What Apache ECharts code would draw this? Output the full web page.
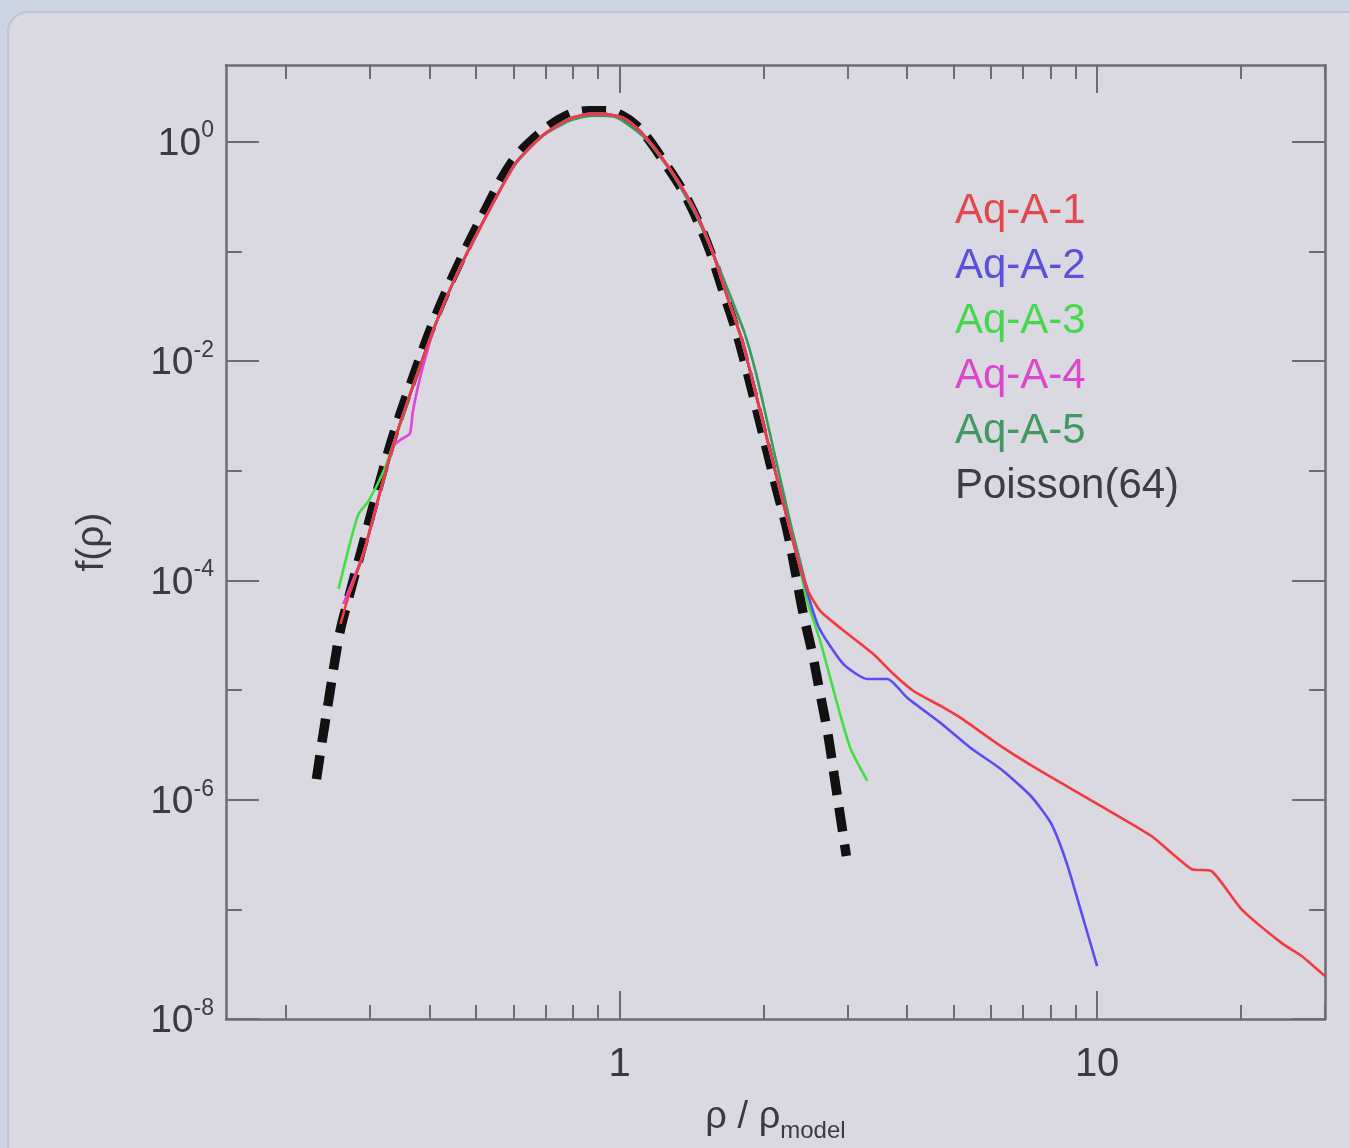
<!DOCTYPE html>
<html>
<head>
<meta charset="utf-8">
<title>f(ρ) distribution</title>
<script src="https://cdn.jsdelivr.net/npm/echarts@6/dist/echarts.min.js"></script>
<style>
  html, body { margin: 0; padding: 0; background: #cdd4e4; }
  #chart { width: 1350px; height: 1148px; }
</style>
</head>
<body>
<div id="chart"></div>
<script>
const FONT = '"Liberation Sans", Arial, Helvetica, sans-serif';

// ---- axis ranges and ticks ----
const X_MIN = 0.15, X_MAX = 30;
const Y_MIN = 1e-8, Y_MAX = 5;
const xMajorTicks = [1, 10];
const xMajorLabels = ['1', '10'];
const xMinorTicks = [0.2, 0.3, 0.4, 0.5, 0.6, 0.7, 0.8, 0.9, 2, 3, 4, 5, 6, 7, 8, 9, 20, 30];
const yMajorTicks = [1, 1e-2, 1e-4, 1e-6, 1e-8];
const yMajorExponents = ['0', '-2', '-4', '-6', '-8'];
const yMinorTicks = [1e-1, 1e-3, 1e-5, 1e-7];

// ---- series ----
const seriesNames = ['Aq-A-1', 'Aq-A-2', 'Aq-A-3', 'Aq-A-4', 'Aq-A-5', 'Poisson(64)'];
const lineColors = ['#f23a3e', '#5a4cf2', '#3fe040', '#e042dc', '#3a9a5a', '#111111'];
const legendColors = ['#e2474d', '#5a50dc', '#45d84c', '#dc46cc', '#3e9a60', '#3c3c44'];

// Aq-A-1: x = rho / rho_model, y = f(rho)
const aqA1X = [0.2606, 0.2709, 0.2912, 0.3178, 0.3417, 0.3728, 0.4107, 0.4611, 0.5331, 0.6047, 0.6893, 0.7852, 0.8774, 0.9528, 1.0245, 1.102, 1.173, 1.274, 1.376, 1.473, 1.568, 1.670, 1.787, 1.876, 1.969, 2.066, 2.169, 2.276, 2.377, 2.483, 2.631, 2.899, 3.400, 3.746, 4.127, 4.702, 5.179, 6.284, 7.625, 10.19, 12.99, 15.76, 17.36, 20.07, 24.36, 26.83, 30.0];
const aqA1Y = [4.0e-5, 7.2e-5, 1.78e-4, 7.27e-4, 2.17e-3, 6.6e-3, 2.1e-2, 6.79e-2, 0.2347, 0.630, 1.134, 1.622, 1.801, 1.764, 1.622, 1.26, 0.919, 0.567, 0.3354, 0.190, 0.0971, 0.0419, 0.0177, 8.14e-3, 3.51e-3, 1.52e-3, 6.54e-4, 2.88e-4, 1.41e-4, 8.0e-5, 5.26e-5, 3.68e-5, 2.13e-5, 1.40e-5, 9.8e-6, 7.15e-6, 5.56e-6, 3.08e-6, 1.82e-6, 8.74e-7, 4.66e-7, 2.33e-7, 2.23e-7, 1.0e-7, 4.92e-8, 3.74e-8, 2.46e-8];

// Aq-A-2
const aqA2X = [0.2644, 0.2912, 0.3178, 0.3417, 0.3728, 0.4107, 0.4611, 0.5331, 0.6047, 0.6893, 0.7852, 0.8774, 0.9528, 1.0245, 1.102, 1.173, 1.274, 1.376, 1.473, 1.568, 1.670, 1.787, 1.876, 1.969, 2.066, 2.169, 2.276, 2.377, 2.606, 2.941, 3.303, 3.638, 4.009, 4.702, 5.436, 6.284, 7.265, 8.005, 8.61, 9.256, 10.0];
const aqA2Y = [6.1e-5, 1.78e-4, 7.27e-4, 2.17e-3, 6.6e-3, 2.1e-2, 6.79e-2, 0.2347, 0.630, 1.134, 1.622, 1.801, 1.764, 1.622, 1.26, 0.919, 0.567, 0.3354, 0.190, 0.0971, 0.0419, 0.0177, 8.14e-3, 3.51e-3, 1.52e-3, 6.54e-4, 2.88e-4, 1.41e-4, 3.84e-5, 1.73e-5, 1.26e-5, 1.26e-5, 8.45e-6, 5.0e-6, 2.96e-6, 1.9e-6, 1.08e-6, 6.11e-7, 2.75e-7, 9.6e-8, 3.03e-8];

// Aq-A-3
const aqA3X = [0.2581, 0.2735, 0.2843, 0.2984, 0.3209, 0.3417, 0.3728, 0.4107, 0.4611, 0.5331, 0.6047, 0.6893, 0.7852, 0.8774, 0.9528, 1.0245, 1.102, 1.173, 1.274, 1.376, 1.473, 1.568, 1.670, 1.787, 1.876, 1.969, 2.066, 2.169, 2.276, 2.377, 2.471, 2.631, 2.857, 3.042, 3.303];
const aqA3Y = [8.35e-5, 2.29e-4, 4.04e-4, 5.3e-4, 9.96e-4, 2.17e-3, 6.6e-3, 2.1e-2, 6.79e-2, 0.2347, 0.630, 1.134, 1.622, 1.801, 1.764, 1.622, 1.26, 0.919, 0.567, 0.3354, 0.190, 0.0971, 0.0419, 0.0177, 8.14e-3, 3.51e-3, 1.52e-3, 6.54e-4, 2.88e-4, 1.41e-4, 6.49e-5, 2.8e-5, 7.45e-6, 2.96e-6, 1.48e-6];

// Aq-A-4
const aqA4X = [0.2644, 0.2912, 0.3178, 0.3367, 0.3500, 0.3639, 0.3692, 0.3819, 0.3950, 0.4107, 0.4611, 0.5331, 0.6047, 0.6893, 0.7852, 0.8774, 0.9528, 1.0245, 1.102, 1.173, 1.274, 1.376, 1.473, 1.568, 1.670, 1.787, 1.876, 1.969, 2.066, 2.169, 2.276, 2.377, 2.483];
const aqA4Y = [6.1e-5, 1.78e-4, 7.27e-4, 1.68e-3, 1.95e-3, 2.17e-3, 3.44e-3, 6.88e-3, 1.19e-2, 2.1e-2, 6.79e-2, 0.2347, 0.630, 1.134, 1.622, 1.801, 1.764, 1.622, 1.26, 0.919, 0.567, 0.3354, 0.190, 0.0971, 0.0419, 0.0177, 8.14e-3, 3.51e-3, 1.52e-3, 6.54e-4, 2.88e-4, 1.41e-4, 8.0e-5];

// Aq-A-5
const aqA5X = [0.2683, 0.2912, 0.3178, 0.3417, 0.3728, 0.4107, 0.4611, 0.5331, 0.6047, 0.6893, 0.7852, 0.8774, 0.9761, 1.128, 1.286, 1.437, 1.561, 1.702, 1.830, 1.931, 2.017, 2.106, 2.200, 2.298, 2.388, 2.459];
const aqA5Y = [6.5e-5, 1.78e-4, 7.27e-4, 2.17e-3, 6.6e-3, 2.1e-2, 6.79e-2, 0.2347, 0.620, 1.12, 1.55, 1.727, 1.69, 1.088, 0.521, 0.225, 0.101, 0.0402, 0.0177, 7.8e-3, 3.44e-3, 1.49e-3, 6.54e-4, 2.88e-4, 1.50e-4, 8.89e-5];

// Poisson(64) reference curve
const poissonX = [0.232, 0.2388, 0.2459, 0.2531, 0.2606, 0.2709, 0.2871, 0.3132, 0.3367, 0.3674, 0.4047, 0.4545, 0.5255, 0.5958, 0.6793, 0.7737, 0.865, 0.9391, 1.0146, 1.086, 1.156, 1.255, 1.356, 1.451, 1.546, 1.646, 1.761, 1.848, 1.941, 2.036, 2.137, 2.243, 2.332, 2.423, 2.532, 2.631, 2.735, 2.816, 2.899, 2.985];
const poissonY = [1.54e-6, 3.57e-6, 7.94e-6, 1.76e-5, 3.6e-5, 6.9e-5, 1.78e-4, 7.27e-4, 2.17e-3, 6.6e-3, 2.1e-2, 6.79e-2, 0.2447, 0.657, 1.183, 1.727, 1.918, 1.918, 1.727, 1.40, 1.021, 0.604, 0.357, 0.198, 0.1012, 0.0437, 0.0177, 8.14e-3, 3.51e-3, 1.52e-3, 6.54e-4, 2.88e-4, 1.22e-4, 5.04e-5, 2.18e-5, 9.2e-6, 3.8e-6, 1.64e-6, 7.08e-7, 3.06e-7];

function pairs(xs, ys) { return xs.map((x, i) => [x, ys[i]]); }
function sameTick(a, b) { return Math.abs(Math.log10(a) - Math.log10(b)) < 1e-6; }

const AXIS_COLOR = '#6c6c76';
const TEXT_COLOR = '#3a3a40';
const axisLineStyle = { color: AXIS_COLOR, width: 2.5 };
const tickLineStyle = { color: AXIS_COLOR, width: 2 };

function xAxisDef(position, ticks, len, withLine, withLabels) {
  const ax = {
    type: 'log', logBase: 10, min: X_MIN, max: X_MAX, position: position,
    axisLine: { show: withLine, onZero: false, lineStyle: axisLineStyle },
    axisTick: { show: true, inside: true, length: len, customValues: ticks, lineStyle: tickLineStyle },
    axisLabel: { show: false },
    splitLine: { show: false }, minorTick: { show: false }
  };
  if (withLabels) {
    ax.axisLabel = {
      show: true, customValues: xMajorTicks, margin: 26,
      fontFamily: FONT, fontSize: 40, color: TEXT_COLOR,
      formatter: v => { const i = xMajorTicks.findIndex(t => sameTick(t, v)); return i >= 0 ? xMajorLabels[i] : ''; }
    };
    ax.name = '{m|ρ / ρ}{s|model}';
    ax.nameLocation = 'middle';
    ax.nameGap = 80;
    ax.nameTextStyle = {
      rich: {
        m: { fontFamily: FONT, fontSize: 38, color: TEXT_COLOR, lineHeight: 44, verticalAlign: 'top' },
        s: { fontFamily: FONT, fontSize: 24, color: TEXT_COLOR, lineHeight: 24, verticalAlign: 'bottom' }
      }
    };
  }
  return ax;
}

function yAxisDef(position, ticks, len, withLine, withLabels) {
  const ax = {
    type: 'log', logBase: 10, min: Y_MIN, max: Y_MAX, position: position,
    axisLine: { show: withLine, onZero: false, lineStyle: axisLineStyle },
    axisTick: { show: true, inside: true, length: len, customValues: ticks, lineStyle: tickLineStyle },
    axisLabel: { show: false },
    splitLine: { show: false }, minorTick: { show: false }
  };
  if (withLabels) {
    ax.axisLabel = {
      show: true, customValues: yMajorTicks, margin: 12,
      formatter: v => {
        const i = yMajorTicks.findIndex(t => sameTick(t, v));
        return i >= 0 ? '{b|10}{e|' + yMajorExponents[i] + '}' : '';
      },
      rich: {
        b: { fontFamily: FONT, fontSize: 39, color: TEXT_COLOR, lineHeight: 44, verticalAlign: 'bottom' },
        e: { fontFamily: FONT, fontSize: 23, color: TEXT_COLOR, lineHeight: 23, verticalAlign: 'top' }
      }
    };
    ax.name = 'f(ρ)';
    ax.nameLocation = 'middle';
    ax.nameGap = 114;
    ax.nameTextStyle = { fontFamily: FONT, fontSize: 39, color: TEXT_COLOR };
  }
  return ax;
}

const seriesData = [
  pairs(aqA1X, aqA1Y), pairs(aqA2X, aqA2Y), pairs(aqA3X, aqA3Y),
  pairs(aqA4X, aqA4Y), pairs(aqA5X, aqA5Y), pairs(poissonX, poissonY)
];

// draw order: dashed reference at the bottom, Aq-A-1 on top
const drawOrder = [5, 4, 2, 1, 3, 0];
const series = drawOrder.map((k, n) => {
  const isRef = k === 5;
  return {
    name: seriesNames[k], type: 'line', xAxisIndex: 0, yAxisIndex: 0,
    data: seriesData[k], symbol: 'none', showSymbol: false,
    smooth: isRef ? 0.35 : 0.2, z: 2 + n,
    lineStyle: isRef
      ? { color: lineColors[k], width: 9.5, type: [24, 13], cap: 'butt' }
      : { color: lineColors[k], width: 2.6 },
    emphasis: { disabled: true }
  };
});

const chart = echarts.init(document.getElementById('chart'), null, { renderer: 'canvas' });
chart.setOption({
  animation: false,
  backgroundColor: 'transparent',
  graphic: [{
    type: 'rect', z: -10, silent: true,
    shape: { x: 8, y: 12, width: 1400, height: 1200, r: 20 },
    style: { fill: '#dad8e1', stroke: '#bcc4da', lineWidth: 2 }
  }],
  grid: { left: 226, top: 65, width: 1099, height: 954, containLabel: false },
  xAxis: [
    xAxisDef('bottom', xMajorTicks, 28, true, true),
    xAxisDef('bottom', xMinorTicks, 14, false, false),
    xAxisDef('top', xMajorTicks, 28, true, false),
    xAxisDef('top', xMinorTicks, 14, false, false)
  ],
  yAxis: [
    yAxisDef('left', yMajorTicks, 33, true, true),
    yAxisDef('left', yMinorTicks, 16, false, false),
    yAxisDef('right', yMajorTicks, 33, true, false),
    yAxisDef('right', yMinorTicks, 16, false, false)
  ],
  legend: {
    orient: 'vertical', left: 945, top: 184,
    icon: 'none', itemWidth: 0, itemHeight: 10, itemGap: 11,
    selectedMode: false,
    textStyle: { fontFamily: FONT, fontSize: 42, lineHeight: 44 },
    data: seriesNames.map((n, i) => ({ name: n, textStyle: { color: legendColors[i] } }))
  },
  series: series
});
</script>
</body>
</html>
